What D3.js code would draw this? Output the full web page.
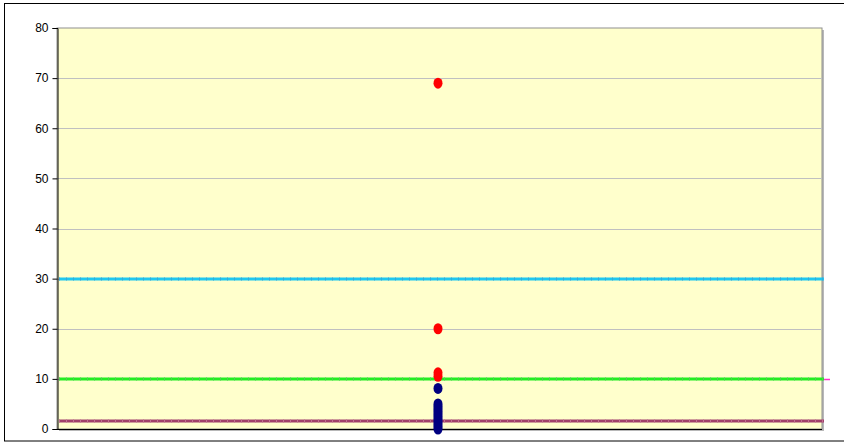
<!DOCTYPE html>
<html>
<head>
<meta charset="utf-8">
<script src="https://cdn.jsdelivr.net/npm/d3@7"></script>
<style>
  body { margin: 0; background: #fff; }
  svg { display: block; }
</style>
</head>
<body>
<svg id="chart" width="844" height="443"></svg>
<script>
// values
const yTicks = [0, 10, 20, 30, 40, 50, 60, 70, 80];
const redValues = [69, 20, 11.2, 10.5];
const blueValues = [8.1, 5, 4.5, 4, 3.5, 3, 2.5, 2, 1.5, 1, 0.5, 0];
const refLines = [
    { value: 30, color: "#1ec8f0", dot: "#3aa8d8" },
    { value: 10, color: "#22ee22", dot: "#55c855" },
    { value: 1.5, color: "#a0406a", dot: "#c07090" }
];
const pointX = 0.5;  // all points sit in the middle of the x range

const width = 844;
const height = 443;
const margin = { top: 28, right: 22, bottom: 14, left: 57 };

const svg = d3.select("#chart");

// outer frame
svg.append("rect")
    .attr("x", 4.5).attr("y", 3.5)
    .attr("width", 900).attr("height", 437.5)
    .attr("fill", "none")
    .attr("stroke", "#000")
    .attr("stroke-width", 1);

const x = d3.scaleLinear()
    .domain([0, 1])
    .range([margin.left, width - margin.right]);

const y = d3.scaleLinear()
    .domain([0, 80])
    .range([height - margin.bottom, margin.top]);

// plot area with a small shadow
svg.append("rect")
    .attr("x", x(0) + 2).attr("y", y(80) + 2)
    .attr("width", x(1) - x(0)).attr("height", y(0) - y(80))
    .attr("fill", "#b8b8b8");

svg.append("rect")
    .attr("x", x(0)).attr("y", y(80))
    .attr("width", x(1) - x(0)).attr("height", y(0) - y(80))
    .attr("fill", "#ffffcc")
    .attr("stroke", "#909090")
    .attr("stroke-width", 1);

// gridlines
svg.append("g")
    .selectAll("line")
    .data(yTicks.filter(d => d > 0 && d < 80))
    .join("line")
    .attr("x1", x(0)).attr("x2", x(1))
    .attr("y1", d => Math.round(y(d)) + 0.5)
    .attr("y2", d => Math.round(y(d)) + 0.5)
    .attr("stroke", "#c0c0c0")
    .attr("stroke-width", 1);

// reference lines (dense dotted look)
const lines = svg.append("g");
refLines.forEach(l => {
    const yy = Math.round(y(l.value));
    lines.append("line")
        .attr("x1", x(0) + 2).attr("x2", x(1) + 2)
        .attr("y1", yy).attr("y2", yy)
        .attr("stroke", l.color)
        .attr("stroke-width", 3);
    lines.append("line")
        .attr("x1", x(0) + 2).attr("x2", x(1) + 2)
        .attr("y1", yy).attr("y2", yy)
        .attr("stroke", l.dot)
        .attr("stroke-width", 3)
        .attr("stroke-dasharray", "1 6");
});

// small magenta stub sticking out on the right at 10
svg.append("line")
    .attr("x1", x(1) + 2).attr("x2", x(1) + 8)
    .attr("y1", Math.round(y(10)) + 0.5).attr("y2", Math.round(y(10)) + 0.5)
    .attr("stroke", "#ff33cc")
    .attr("stroke-width", 1.5);

// y axis
const yAxis = svg.append("g")
    .attr("transform", `translate(${x(0) + 0.5},0)`)
    .call(d3.axisLeft(y).tickValues(yTicks).tickSize(5).tickPadding(4));
yAxis.select(".domain").attr("stroke", "#000");
yAxis.selectAll(".tick line").attr("stroke", "#000");
yAxis.selectAll("text")
    .attr("font-family", "Liberation Sans, Arial, sans-serif")
    .attr("font-size", 12)
    .attr("fill", "#000");

// x axis line
svg.append("line")
    .attr("x1", x(0)).attr("x2", x(1))
    .attr("y1", y(0) + 0.5).attr("y2", y(0) + 0.5)
    .attr("stroke", "#000");

// blue points
svg.append("g")
    .selectAll("ellipse")
    .data(blueValues)
    .join("ellipse")
    .attr("cx", x(pointX) - 1.5)
    .attr("cy", d => y(d))
    .attr("rx", 4.5).attr("ry", 5.5)
    .attr("fill", "#000080");

// red points
svg.append("g")
    .selectAll("ellipse")
    .data(redValues)
    .join("ellipse")
    .attr("cx", x(pointX) - 1.5)
    .attr("cy", d => y(d))
    .attr("rx", 4.5).attr("ry", 5.5)
    .attr("fill", "#ff0000");
</script>
</body>
</html>
